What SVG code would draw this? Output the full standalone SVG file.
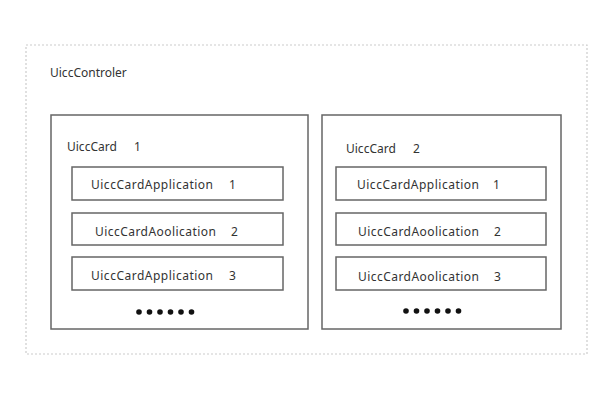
<svg xmlns="http://www.w3.org/2000/svg" width="600" height="400" viewBox="0 0 600 400">
<style>
text{font-family:"Noto Sans","Open Sans","DejaVu Sans",sans-serif;font-size:12px;fill:#333}
.card{fill:#fff;stroke:#666;stroke-width:1.5}
.app{fill:#fff;stroke:#666;stroke-width:1.5}
.outer{fill:none;stroke:#ccc;stroke-width:1.2;stroke-dasharray:2 2}
.dot{fill:#111}
</style>
<rect width="600" height="400" fill="#fff"/>
<g id="controller">
<rect class="outer" x="26" y="45" width="561" height="309"/>
<text x="50" y="77">UiccControler</text>
</g>
<g id="card1">
<rect class="card" x="51" y="115" width="257" height="214"/>
<text x="67" y="151">UiccCard</text><text x="134" y="151">1</text>
</g>
<g id="card1-app1">
<rect class="app" x="72" y="167" width="211" height="33"/>
<text x="91" y="189" textLength="122">UiccCardApplication</text><text x="229" y="189">1</text>
</g>
<g id="card1-app2">
<rect class="app" x="72" y="213" width="211" height="32"/>
<text x="95" y="236" textLength="121">UiccCardAoolication</text><text x="231" y="236">2</text>
</g>
<g id="card1-app3">
<rect class="app" x="72" y="257" width="211" height="33"/>
<text x="91" y="280" textLength="122">UiccCardApplication</text><text x="229" y="280">3</text>
</g>
<g id="card1-more">
<circle class="dot" cx="139" cy="312" r="2.8"/><circle class="dot" cx="149.5" cy="312" r="2.8"/><circle class="dot" cx="160" cy="312" r="2.8"/><circle class="dot" cx="170.5" cy="312" r="2.8"/><circle class="dot" cx="181" cy="312" r="2.8"/><circle class="dot" cx="191.5" cy="312" r="2.8"/>
</g>
<g id="card2">
<rect class="card" x="322" y="115" width="239" height="214"/>
<text x="346" y="153">UiccCard</text><text x="413" y="153">2</text>
</g>
<g id="card2-app1">
<rect class="app" x="336" y="167" width="210" height="33"/>
<text x="357" y="189" textLength="122">UiccCardApplication</text><text x="493" y="189">1</text>
</g>
<g id="card2-app2">
<rect class="app" x="336" y="213" width="210" height="32"/>
<text x="358" y="236" textLength="121">UiccCardAoolication</text><text x="494" y="236">2</text>
</g>
<g id="card2-app3">
<rect class="app" x="336" y="257" width="210" height="33"/>
<text x="358" y="281" textLength="121">UiccCardAoolication</text><text x="494" y="281">3</text>
</g>
<g id="card2-more">
<circle class="dot" cx="406" cy="311" r="2.8"/><circle class="dot" cx="416.5" cy="311" r="2.8"/><circle class="dot" cx="427" cy="311" r="2.8"/><circle class="dot" cx="437.5" cy="311" r="2.8"/><circle class="dot" cx="448" cy="311" r="2.8"/><circle class="dot" cx="458.5" cy="311" r="2.8"/>
</g>
<g id="connectors"></g>
</svg>
